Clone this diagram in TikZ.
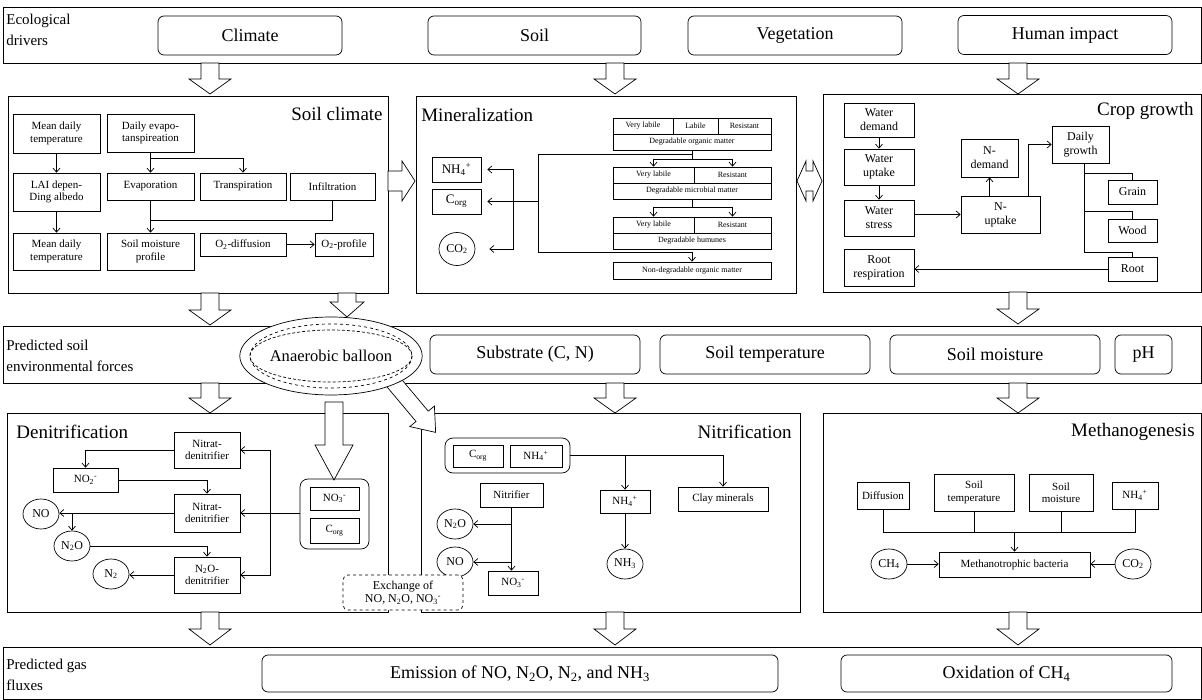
\documentclass[tikz,border=0pt]{standalone}
\usepackage{fontspec}
\setmainfont{Liberation Serif}
\usetikzlibrary{shapes.geometric,arrows.meta}

\begin{document}
\begin{tikzpicture}[x=1pt,y=-1pt,line width=0.7pt,
  >={Straight Barb[length=4pt,width=7pt]},
  band/.style={draw},
  rowlab/.style={anchor=west, align=left, inner sep=0pt, font=\fontsize{15}{21}\selectfont},
  pill/.style={draw, rounded corners=6pt, minimum height=39, font=\fontsize{18}{20}\selectfont},
  panel/.style={draw},
  ptitle/.style={inner sep=0pt, font=\fontsize{19}{21}\selectfont},
  box/.style={draw, align=center, inner sep=1pt, font=\fontsize{11}{12.5}\selectfont},
  cbox/.style={box, font=\fontsize{12}{14}\selectfont},
  cell/.style={draw, inner sep=0pt, font=\fontsize{8}{9}\selectfont},
  gas/.style={draw, ellipse, inner sep=0pt, minimum width=36, minimum height=30, font=\fontsize{12}{13}\selectfont},
  group/.style={draw, rounded corners=8pt},
  flow/.style={->},
  biflow/.style={<->},
  pics/fatarrow/.style n args={4}{code={
    \draw[fill=white] (-#3,0) -- (-#3,#1) -- (-#4,#1) -- (0,#1+#2) -- (#4,#1) -- (#3,#1) -- (#3,0) -- cycle;}}]

  \fill[white, use as bounding box] (0,0) rectangle (1202,700);

  \node[band, minimum width=1198, minimum height=56] (drivers) at (602,35) {};
  \node[rowlab] (driverslab) at (6,30) {Ecological\\drivers};
  \node[pill, minimum width=184] (climate) at (250,35.5) {Climate};
  \node[pill, minimum width=213] (soil) at (534.5,35.5) {Soil};
  \node[pill, minimum width=214] (vegetation) at (795,35.5) {Vegetation};
  \node[pill, minimum width=214] (human) at (1065,35) {Human impact};

  \node[panel, minimum width=380, minimum height=197] (soilclimate) at (198,194.5) {};
  \node[panel, minimum width=380, minimum height=197] (mineral) at (606,194.5) {};
  \node[panel, minimum width=378, minimum height=198] (crop) at (1012,193) {};

  \node[band, minimum width=1198, minimum height=57] (forces) at (602,354.5) {};
  \node[rowlab] (forceslab) at (6,355.5) {Predicted soil\\environmental forces};

  \node[panel, minimum width=381, minimum height=199] (denitri) at (197.5,512.5) {};
  \node[panel, minimum width=379, minimum height=199] (nitri) at (610.5,512.5) {};
  \node[panel, minimum width=378, minimum height=199] (methano) at (1012,512.5) {};

  \node[band, minimum width=1198, minimum height=52.5] (fluxes) at (602,673.25) {};
  \node[rowlab] (fluxeslab) at (6,674.5) {Predicted gas\\fluxes};

  \pic at (210,63) {fatarrow={16}{15}{9}{21}};
  \pic at (615,63) {fatarrow={16}{15}{9}{21}};
  \pic at (1018,63) {fatarrow={16}{15}{9}{21}};

  \node[ptitle, anchor=east] (soilclimatetitle) at (383,114) {Soil climate};
  \node[box, minimum width=87, minimum height=39] (meantemp) at (56.5,133.5) {Mean daily\\temperature};
  \node[box, minimum width=87, minimum height=38] (evapotrans) at (150.5,133) {Daily evapo-\\tanspireation};
  \node[box, minimum width=87, minimum height=38] (albedo) at (56.5,192) {LAI depen-\\Ding albedo};
  \node[box, minimum width=87, minimum height=27] (evaporation) at (150.5,186.5) {Evaporation};
  \node[box, minimum width=86, minimum height=27] (transpiration) at (243,186.5) {Transpiration};
  \node[box, minimum width=85, minimum height=27] (infiltration) at (332.5,186.5) {Infiltration};
  \node[box, minimum width=87, minimum height=37] (meantemptwo) at (56.5,251.5) {Mean daily\\temperature};
  \node[box, minimum width=87, minimum height=37] (smprofile) at (150.5,251.5) {Soil moisture\\profile};
  \node[box, minimum width=86, minimum height=23] (otwodiff) at (243,244.5) {O\textsubscript{2}-diffusion};
  \node[box, minimum width=58, minimum height=23] (otwoprof) at (344,244.5) {O\textsubscript{2}-profile};

  \draw[flow] (meantemp) -- (albedo);
  \draw[flow] (albedo) -- (meantemptwo);
  \draw[flow] (evapotrans) -- (evaporation);
  \draw[flow] (evapotrans.south) ++(0,6) -| (transpiration.north);
  \draw (infiltration.south) -- ++(0,20) -| (evaporation.south);
  \draw[flow] (evaporation) -- (smprofile);
  \draw[flow] (otwodiff) -- (otwoprof);

  \node[ptitle, anchor=west] (mineraltitle) at (421,115) {Mineralization};
  \node[cell, minimum width=60, minimum height=16] (vlone) at (643,126) {Very labile};
  \node[cell, minimum width=45, minimum height=16] (labone) at (695.5,126) {Labile};
  \node[cell, minimum width=53, minimum height=16] (resone) at (744.5,126) {Resistant};
  \node[cell, minimum width=158, minimum height=16] (organic) at (692,142) {Degradable organic matter};
  \node[cell, minimum width=81, minimum height=16] (vltwo) at (653.5,175) {Very labile};
  \node[cell, minimum width=77, minimum height=16] (restwo) at (732.5,175) {Resistant};
  \node[cell, minimum width=158, minimum height=16] (microbial) at (692,191) {Degradable microbial matter};
  \node[cell, minimum width=81, minimum height=16] (vlthree) at (653.5,225) {Very labile};
  \node[cell, minimum width=77, minimum height=16] (resthree) at (732.5,225) {Resistant};
  \node[cell, minimum width=158, minimum height=16] (humunes) at (692,241) {Degradable humunes};
  \node[cell, minimum width=158, minimum height=17] (nondeg) at (692,270.5) {Non-degradable organic matter};
  \node[box, minimum width=49, minimum height=25, font=\fontsize{13}{14}\selectfont] (nhfour) at (456.5,169.5) {NH\textsubscript{4}\textsuperscript{+}};
  \node[box, minimum width=49, minimum height=25, font=\fontsize{13}{14}\selectfont] (corg) at (456.5,201.5) {C\textsubscript{org}};
  \node[gas, minimum width=36, minimum height=33] (cotwo) at (457,249) {CO\textsubscript{2}};
  \coordinate (mhub) at (538,201.5);
  \coordinate (mbottom) at (538,252);

  \draw[flow] (organic.south) -- ++(0,9) -| (vltwo.north);
  \draw[flow] (organic.south) ++(0,9) -| (restwo.north);
  \draw[flow] (microbial.south) -- ++(0,8) -| (vlthree.north);
  \draw[flow] (microbial.south) ++(0,8) -| (resthree.north);
  \draw[flow] (organic.south) ++(0,4) -| (mbottom) -| (nondeg.north);
  \draw[flow, shorten >=6pt] (mhub) -- (corg.east);
  \draw[biflow, shorten <=6pt, shorten >=14pt] (nhfour.east) -- ++(32,0) |- (cotwo.east);

  \node[ptitle, anchor=east] (croptitle) at (1194,111) {Crop growth};
  \node[cbox, minimum width=70, minimum height=34] (wdemand) at (879,120) {Water\\demand};
  \node[cbox, minimum width=70, minimum height=36] (wuptake) at (879,167) {Water\\uptake};
  \node[cbox, minimum width=70, minimum height=36] (wstress) at (879,218) {Water\\stress};
  \node[cbox, minimum width=70, minimum height=37] (rootresp) at (879,267.5) {Root\\respiration};
  \node[cbox, minimum width=57, minimum height=38] (ndemand) at (989.5,158) {N-\\demand};
  \node[cbox, minimum width=79, minimum height=37] (nuptake) at (1000.5,214.5) {N-\\uptake};
  \node[cbox, minimum width=57, minimum height=37] (dgrowth) at (1080.5,144.5) {Daily\\growth};
  \node[cbox, minimum width=49, minimum height=24] (grain) at (1132.5,192) {Grain};
  \node[cbox, minimum width=49, minimum height=23] (wood) at (1132.5,230.5) {Wood};
  \node[cbox, minimum width=49, minimum height=24] (root) at (1132.5,269) {Root};

  \draw[flow] (wdemand) -- (wuptake);
  \draw[flow] (wuptake) -- (wstress);
  \draw[flow] (wstress.east |- nuptake.west) -- (nuptake.west);
  \draw[flow] (ndemand.south |- nuptake.north) -- (ndemand.south);
  \draw[flow] ([xshift=28pt]nuptake.north) |- (dgrowth.west);
  \draw ([xshift=4pt]dgrowth.south) -- ++(0,89) -| (root.north);
  \draw ([xshift=4pt]dgrowth.south) ++(0,10) -| (grain.north);
  \draw ([xshift=4pt]dgrowth.south) ++(0,48) -| (wood.north);
  \draw[flow] (root.west) -- (root.west -| rootresp.east);

  \pic[rotate=90] at (388,181) {fatarrow={14}{13}{10}{20}};
  \draw[fill=white] (797,181) -- (806,161) -- (806,171) -- (813,171) -- (813,161) -- (822,181)
    -- (813,201) -- (813,191) -- (806,191) -- (806,201) -- cycle;

  \pic[rotate=40] at (390,378) {fatarrow={50}{21}{8}{16}};
  \node[draw, ellipse, fill=white, minimum width=166, minimum height=78, font=\fontsize{16.5}{18}\selectfont] (balloon) at (331,356) {Anaerobic balloon};
  \draw[dashed] (balloon.center) ellipse [x radius=81, y radius=32];
  \draw[densely dashed] (balloon.center) ellipse [x radius=81, y radius=26];
  \node[pill, minimum width=210] (substrate) at (535,354.5) {Substrate (C, N)};
  \node[pill, minimum width=210] (soiltemp) at (765,354.5) {Soil temperature};
  \node[pill, minimum width=210] (soilmoist) at (995,354.5) {Soil moisture};
  \node[pill, minimum width=57] (ph) at (1143.5,354.5) {pH};

  \pic at (210,293) {fatarrow={17}{15}{9}{21}};
  \pic at (347,293) {fatarrow={9}{15}{9}{17}};
  \pic at (1018,292) {fatarrow={17}{15}{9}{21}};

  \pic at (210,383) {fatarrow={15}{15}{9}{21}};
  \pic at (615,383) {fatarrow={15}{15}{9}{21}};
  \pic at (1018,383) {fatarrow={15}{15}{9}{21}};
  \pic at (334,402) {fatarrow={43}{35}{9}{19}};

  \node[ptitle, anchor=west] (denitrititle) at (16,432) {Denitrification};
  \node[box, minimum width=66, minimum height=36] (nitratone) at (207,450) {Nitrat-\\denitrifier};
  \node[box, minimum width=65, minimum height=24] (notwo) at (85.5,480) {NO\textsubscript{2}\textsuperscript{-}};
  \node[box, minimum width=66, minimum height=38] (nitrattwo) at (207,513) {Nitrat-\\denitrifier};
  \node[box, minimum width=66, minimum height=36] (ntwoodenit) at (207,575) {N\textsubscript{2}O-\\denitrifier};
  \node[gas] (nodn) at (41,514) {NO};
  \node[gas] (ntwoodn) at (72,546) {N\textsubscript{2}O};
  \node[gas] (ntwodn) at (111,574) {N\textsubscript{2}};
  \node[group, minimum width=69, minimum height=70] (substdn) at (334.5,514) {};
  \node[box, minimum width=49, minimum height=23] (nothreedn) at (334.5,498.5) {NO\textsubscript{3}\textsuperscript{-}};
  \node[box, minimum width=49, minimum height=25] (corgdn) at (334.5,530.5) {C\textsubscript{org}};

  \draw[flow] (nitratone.west) -| (notwo.north);
  \draw[flow] (notwo.east) -| (nitrattwo.north);
  \draw[flow] (nitrattwo.west) -- (nitrattwo.west -| nodn.east);
  \draw[flow] (nitrattwo.west -| ntwoodn.north) -- (ntwoodn.north);
  \draw[flow] (ntwoodn.east) -| (ntwoodenit.north);
  \draw[flow] (ntwoodenit.west) -- (ntwoodenit.west -| ntwodn.east);
  \draw[flow] (substdn.west |- nitrattwo.east) -- (nitrattwo.east);
  \draw[biflow] (nitratone.east) -- ++(30,0) |- (ntwoodenit.east);

  \node[ptitle, anchor=east] (nitrititle) at (792,432) {Nitrification};
  \node[group, minimum width=125, minimum height=35] (substni) at (507.5,455.5) {};
  \node[box, minimum width=50, minimum height=22] (corgni) at (478,456) {C\textsubscript{org}};
  \node[box, minimum width=52, minimum height=22] (nhfourni) at (536,456) {NH\textsubscript{4}\textsuperscript{+}};
  \node[box, minimum width=50, minimum height=23] (nhfourfree) at (625,501.5) {NH\textsubscript{4}\textsuperscript{+}};
  \node[box, minimum width=90, minimum height=24] (clay) at (723,499) {Clay minerals};
  \node[gas] (nhthree) at (625,564) {NH\textsubscript{3}};
  \node[box, minimum width=63, minimum height=24] (nitrifier) at (511.5,495) {Nitrifier};
  \node[gas] (ntwooni) at (455,524) {N\textsubscript{2}O};
  \node[gas] (noni) at (455,562) {NO};
  \node[box, minimum width=50, minimum height=24] (nothreeni) at (513,583) {NO\textsubscript{3}\textsuperscript{-}};

  \draw[flow] (substni.east) -| (clay.north);
  \draw[flow] (substni.east -| nhfourfree.north) -- (nhfourfree.north);
  \draw[flow] (nhfourfree) -- (nhthree);
  \draw[flow] (nitrifier.south) -- (nitrifier.south |- nothreeni.north);
  \draw[flow] (nitrifier.south |- ntwooni.east) -- (ntwooni.east);
  \draw[flow] (nitrifier.south |- noni.east) -- (noni.east);

  \node[draw, dashed, fill=white, rounded corners=5pt, minimum width=120, minimum height=35, align=center, inner sep=1pt, font=\fontsize{12}{13.5}\selectfont] (exchange) at (403,592.5) {Exchange of\\NO, N\textsubscript{2}O, NO\textsubscript{3}\textsuperscript{-}};

  \node[ptitle, anchor=east] (methanotitle) at (1195,432) {Methanogenesis};
  \node[box, minimum width=52, minimum height=27] (diffusion) at (883,495.5) {Diffusion};
  \node[box, minimum width=80, minimum height=37] (soiltempmg) at (974,492.5) {Soil\\temperature};
  \node[box, minimum width=64, minimum height=37] (soilmoistmg) at (1061,492.5) {Soil\\moisture};
  \node[box, minimum width=46, minimum height=27] (nhfourmg) at (1135,495.5) {NH\textsubscript{4}\textsuperscript{+}};
  \node[box, minimum width=151, minimum height=25] (methanotroph) at (1014.5,564.5) {Methanotrophic bacteria};
  \node[gas] (chfour) at (889,564) {CH\textsubscript{4}};
  \node[gas] (cotwomg) at (1133,564) {CO\textsubscript{2}};

  \draw (diffusion.south) -- ++(0,23) -| (nhfourmg.south);
  \draw (soiltempmg.south) -- ++(0,21);
  \draw (soilmoistmg.south) -- ++(0,21);
  \draw[flow] (methanotroph.north) ++(0,-20) -- (methanotroph.north);
  \draw[flow] (chfour.east) -- (chfour.east -| methanotroph.west);
  \draw[flow] (cotwomg.west) -- (cotwomg.west -| methanotroph.east);

  \pic at (210,612) {fatarrow={17}{16}{9}{21}};
  \pic at (615,612) {fatarrow={17}{16}{9}{21}};
  \pic at (1018,612) {fatarrow={17}{16}{9}{21}};

  \node[pill, minimum width=516, minimum height=37] (emission) at (520,673.5) {Emission of NO, N\textsubscript{2}O, N\textsubscript{2}, and NH\textsubscript{3}};
  \node[pill, minimum width=331, minimum height=37] (oxidation) at (1006.5,673.5) {Oxidation of CH\textsubscript{4}};
\end{tikzpicture}
\end{document}
